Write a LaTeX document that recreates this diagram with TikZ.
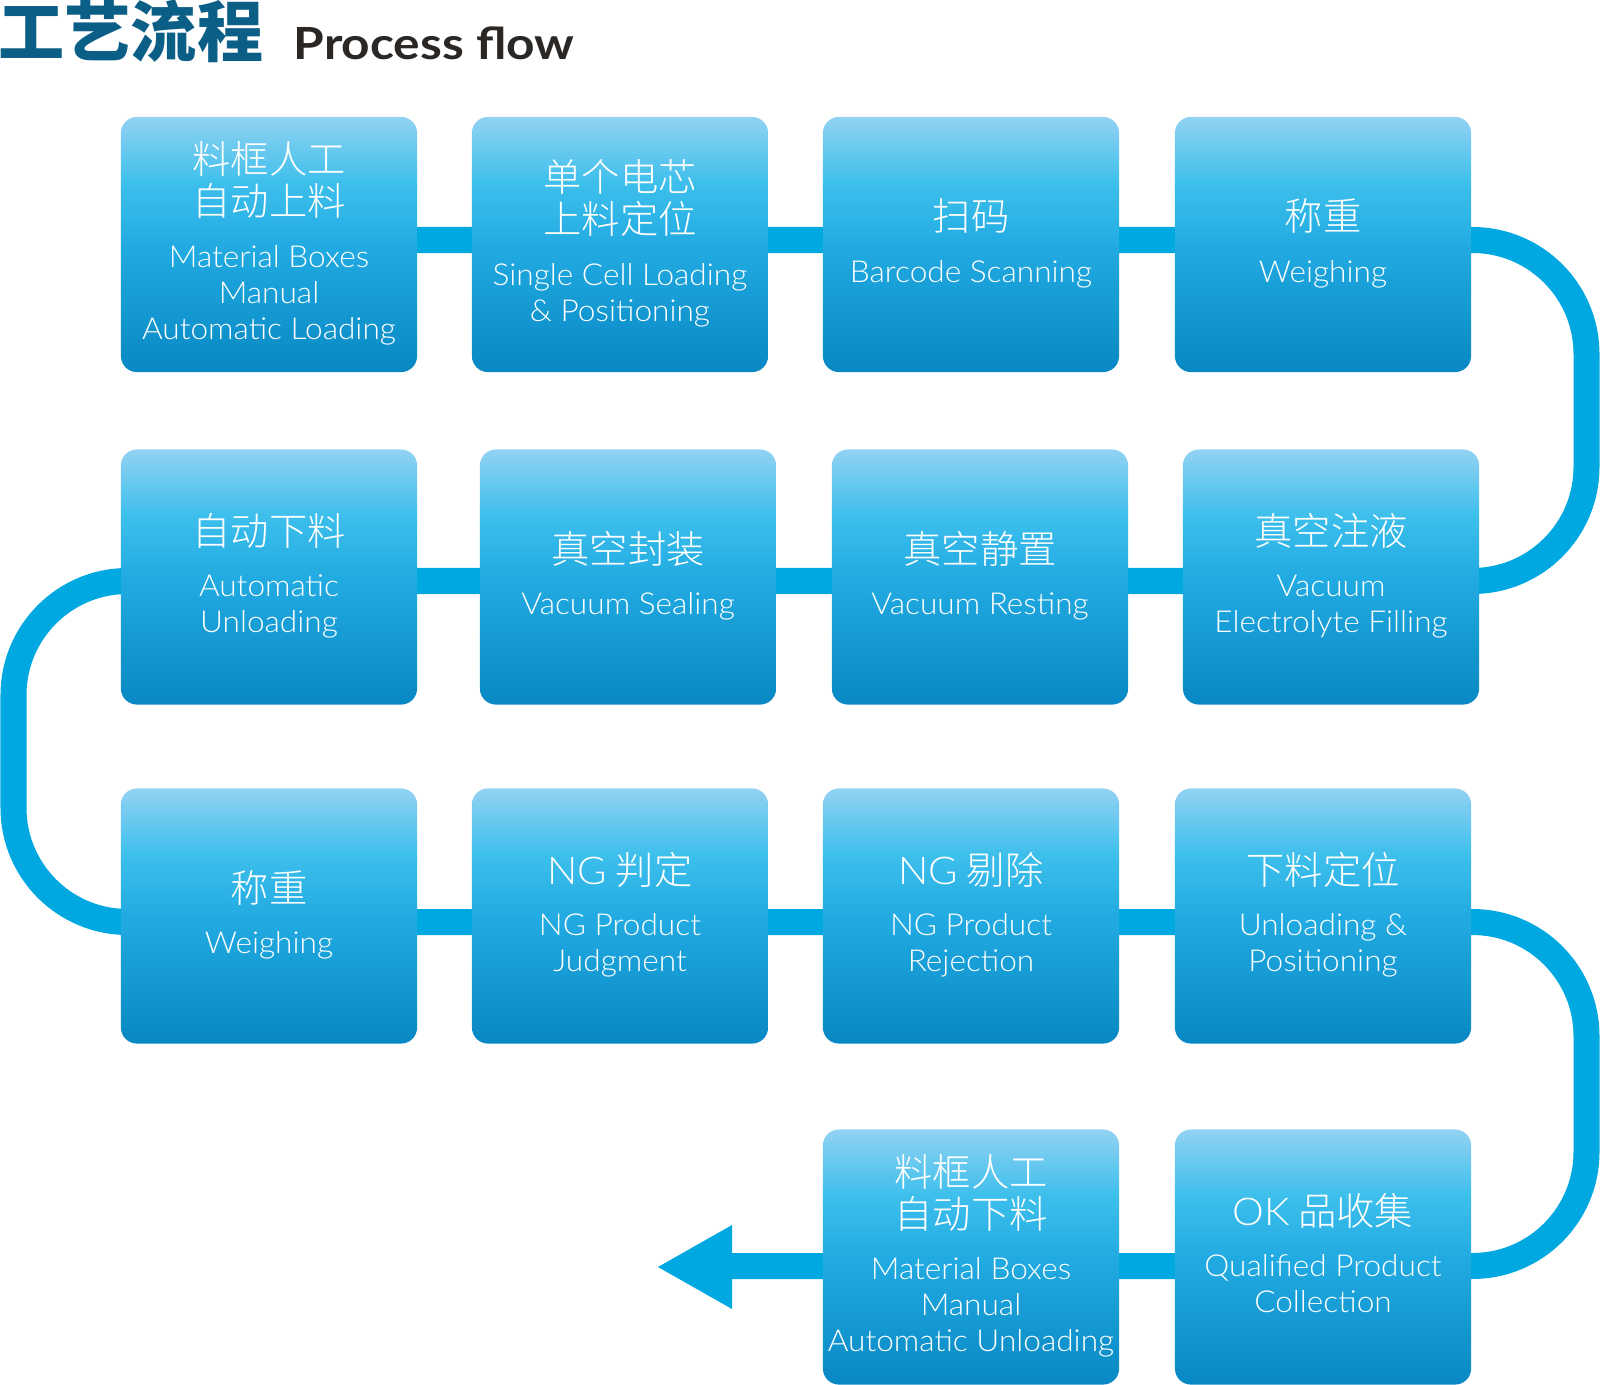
\documentclass[tikz,border=0pt]{standalone}
\usepackage{fontspec}
\usetikzlibrary{backgrounds}
\newfontfamily\enf{Lato Light}[FakeStretch=1.045]
\newfontfamily\cjf{Noto Sans CJK SC Light}
\newfontfamily\cjkbase{Noto Sans CJK SC}
\newfontfamily\latobase{Lato}[FakeStretch=1.12]
\definecolor{conn}{HTML}{00A8E1}
\definecolor{titleblue}{HTML}{0B5F86}
\definecolor{titledark}{HTML}{2B2724}
\definecolor{shtop}{HTML}{92D2F2}
\definecolor{shmid}{HTML}{3DBFEC}
\definecolor{shmidb}{HTML}{22ABE2}
\definecolor{shbot}{HTML}{0888C4}
\pgfdeclareverticalshading{boxshade}{100bp}{color(0bp)=(shbot); color(25bp)=(shbot); color(50bp)=(shmidb); color(62bp)=(shmid); color(75bp)=(shtop); color(100bp)=(shtop)}
\newcommand\cl[1]{\rule[-2.35pt]{0pt}{11.95pt}{\fontsize{10.9}{12}\selectfont\cjf #1}}
\newcommand\el[1]{\rule[-2.74pt]{0pt}{10.24pt}{\fontsize{8.6}{10}\selectfont\enf #1}}
\newcommand\bx[2]{{\renewcommand\arraystretch{0}\begin{tabular}{@{}c@{}}#1\\[7.2pt]#2\end{tabular}}}
\tikzset{
  stepbox/.style={shade, shading=boxshade, rounded corners=0.16cm, minimum width=2.96cm, minimum height=2.55cm, inner sep=0pt, text=white, align=center},
  connline/.style={draw=conn, line width=0.26cm},
}
\begin{document}
\begin{tikzpicture}[x=0.01cm,y=-0.01cm]
\useasboundingbox (0,0) rectangle (1600,1385);
% title
\node[anchor=west, inner sep=0pt, text=titleblue, font=\cjkbase\bfseries\fontsize{18.8}{20}\selectfont] (tcn) at (-2,31) {工艺流程};
\node[anchor=base west, inner sep=0pt, text=titledark, font=\latobase\bfseries\fontsize{12.6}{14}\selectfont] (ten) at (293,60) {Process flow};
% row 1
\node[stepbox] (b1) at (269,244.5) {\bx{\cl{料框人工}\\\cl{自动上料}}{\el{Material Boxes}\\\el{Manual}\\\el{Automatic Loading}}};
\node[stepbox] (b2) at (620,244.5) {\bx{\cl{单个电芯}\\\cl{上料定位}}{\el{Single Cell Loading}\\\el{\& Positioning}}};
\node[stepbox] (b3) at (971,244.5) {\bx{\cl{扫码}}{\el{Barcode Scanning}}};
\node[stepbox] (b4) at (1323,244.5) {\bx{\cl{称重}}{\el{Weighing}}};
% row 2
\node[stepbox] (b5) at (1331,577) {\bx{\cl{真空注液}}{\el{Vacuum}\\\el{Electrolyte Filling}}};
\node[stepbox] (b6) at (980,577) {\bx{\cl{真空静置}}{\el{Vacuum Resting}}};
\node[stepbox] (b7) at (628,577) {\bx{\cl{真空封装}}{\el{Vacuum Sealing}}};
\node[stepbox] (b8) at (269,577) {\bx{\cl{自动下料}}{\el{Automatic}\\\el{Unloading}}};
% row 3
\node[stepbox] (b9) at (269,916) {\bx{\cl{称重}}{\el{Weighing}}};
\node[stepbox] (b10) at (620,916) {\bx{\cl{{\enf NG} 判定}}{\el{NG Product}\\\el{Judgment}}};
\node[stepbox] (b11) at (971,916) {\bx{\cl{{\enf NG} 剔除}}{\el{NG Product}\\\el{Rejection}}};
\node[stepbox] (b12) at (1323,916) {\bx{\cl{下料定位}}{\el{Unloading \&}\\\el{Positioning}}};
% row 4
\node[stepbox] (b13) at (1323,1257) {\bx{\cl{{\enf OK} 品收集}}{\el{Qualified Product}\\\el{Collection}}};
\node[stepbox] (b14) at (971,1257) {\bx{\cl{料框人工}\\\cl{自动下料}}{\el{Material Boxes}\\\el{Manual}\\\el{Automatic Unloading}}};
% connector
\coordinate (c1) at (1586.5,240);
\coordinate (c2) at (1586.5,581);
\coordinate (c3) at (13.5,581);
\coordinate (c4) at (13.5,922);
\coordinate (c5) at (1586.5,922);
\coordinate (c6) at (1586.5,1266);
\coordinate (ah) at (732,1266);
\coordinate (ah1) at (732,1225);
\coordinate (ah2) at (732,1309);
\coordinate (tip) at (658,1267);
\begin{scope}[on background layer]
\draw[connline, rounded corners=1.14cm] (b1.center |- c1) -- (c1) -- (c2) -- (c3) -- (c4) -- (c5) -- (c6) -- (ah);
\fill[conn] (tip) -- (ah1) -- (ah2) -- cycle;
\end{scope}
\end{tikzpicture}
\end{document}
